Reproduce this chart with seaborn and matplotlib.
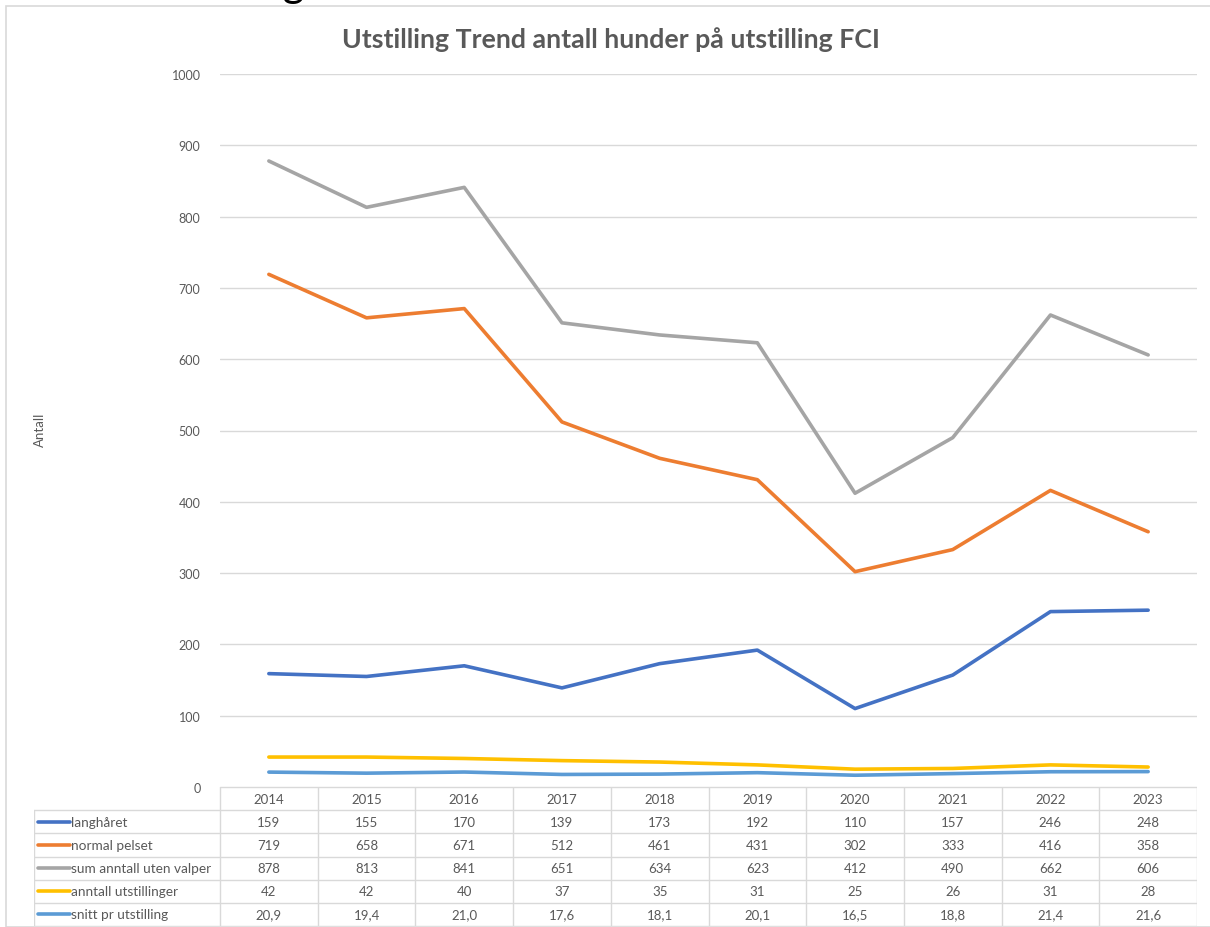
import pandas as pd
import numpy as np
import matplotlib.pyplot as plt
import seaborn as sns
from matplotlib.patches import Rectangle

sns.set_theme(style="white")
plt.rcParams['font.family'] = ['Lato', 'DejaVu Sans']

YEARS = ['2014', '2015', '2016', '2017', '2018', '2019', '2020', '2021', '2022', '2023']
LANGHARET = [159, 155, 170, 139, 173, 192, 110, 157, 246, 248]
NORMAL_PELSET = [719, 658, 671, 512, 461, 431, 302, 333, 416, 358]
SUM_UTEN_VALPER = [878, 813, 841, 651, 634, 623, 412, 490, 662, 606]
ANTALL_UTST = [42, 42, 40, 37, 35, 31, 25, 26, 31, 28]
SNITT = [20.9, 19.4, 21.0, 17.6, 18.1, 20.1, 16.5, 18.8, 21.4, 21.6]

SERIES = ['langhåret', 'normal pelset', 'sum anntall uten valper',
          'anntall utstillinger', 'snitt pr utstilling']
VALUES = [LANGHARET, NORMAL_PELSET, SUM_UTEN_VALPER, ANTALL_UTST, SNITT]
COLORS = ['#4472C4', '#ED7D31', '#A5A5A5', '#FFC000', '#5B9BD5']
GRID = '#D9D9D9'
TXT = '#595959'

W, H = 1210, 928

rows = []
for name, vals in zip(SERIES, VALUES):
    for i, v in enumerate(vals):
        rows.append({'pos': i, 'serie': name, 'antall': v})
df = pd.DataFrame(rows)

fig = plt.figure(figsize=(W / 100, H / 100), dpi=100)

# ramme rundt diagrammet
fig.patches.append(Rectangle((6 / W, 0), 1.2, 1 - 7 / H, transform=fig.transFigure,
                             fill=False, edgecolor=GRID, linewidth=1.2))
# avkuttet tekst fra dokumentet over (bare nedre kant synlig)
fig.text(30 / W, 1 + 3 / H, 'Trend utstilling', fontsize=30, color='black',
         va='baseline', ha='left')

x0, x1 = 220, 1197
ax = fig.add_axes([x0 / W, 1 - 788 / H, (x1 - x0) / W, (788 - 75) / H])
sns.lineplot(data=df, x='pos', y='antall', hue='serie', hue_order=SERIES,
             palette=COLORS, linewidth=2.6, legend=False, sort=False, ax=ax)
ax.set_xlim(-0.5, len(YEARS) - 0.5)
ax.set_ylim(0, 1000)
ax.set_yticks(np.arange(0, 1001, 100))
ax.yaxis.grid(True, color=GRID, linewidth=1)
ax.set_axisbelow(True)
ax.set_xticks([])
ax.set_xlabel('')
ax.set_ylabel('')
for s in ax.spines.values():
    s.set_visible(False)
ax.tick_params(axis='y', length=0, pad=14, labelsize=9, labelcolor=TXT)
ax.patch.set_alpha(0)

fig.text(611 / W, 1 - 40 / H, 'Utstilling Trend antall hunder på utstilling FCI',
         ha='center', va='center', fontsize=19.3, fontweight='bold', color=TXT)
fig.text(40 / W, 1 - 430 / H, 'Antall', rotation=90, ha='center', va='center',
         fontsize=9.5, color=TXT)

# datatabell under diagrammet
unit = (x1 - x0) / len(YEARS)
tleft = -0.5 - (x0 - 34) / unit
tax = fig.add_axes([34 / W, 1 - 927 / H, (x1 - 34) / W, (927 - 788) / H])
tax.set_xlim(tleft, len(YEARS) - 0.5)
tax.set_ylim(6, 0)
tax.axis('off')
n = len(YEARS)
tax.plot([-0.5, n - 0.5], [0, 0], color=GRID, lw=1)
for r in range(1, 7):
    tax.plot([tleft, n - 0.5], [r, r], color=GRID, lw=1)
for k in range(n + 1):
    tax.plot([k - 0.5, k - 0.5], [0, 6], color=GRID, lw=1)
tax.plot([tleft, tleft], [1, 6], color=GRID, lw=1)
for i, yr in enumerate(YEARS):
    tax.text(i, 0.5, yr, ha='center', va='center', fontsize=9.5, color=TXT)
key_a = tleft + 4 / unit
key_b = tleft + 36 / unit
for r, (name, vals, c) in enumerate(zip(SERIES, VALUES, COLORS), start=1):
    tax.plot([key_a, key_b], [r + 0.5, r + 0.5], color=c, lw=2.6, solid_capstyle='round')
    tax.text(key_b + 1 / unit, r + 0.5, name, ha='left', va='center', fontsize=9.8, color=TXT)
    for i, v in enumerate(vals):
        lab = f'{v:.1f}'.replace('.', ',') if isinstance(v, float) else str(v)
        tax.text(i, r + 0.5, lab, ha='center', va='center', fontsize=9.5, color=TXT)

fig.savefig('out.png', dpi=100)
